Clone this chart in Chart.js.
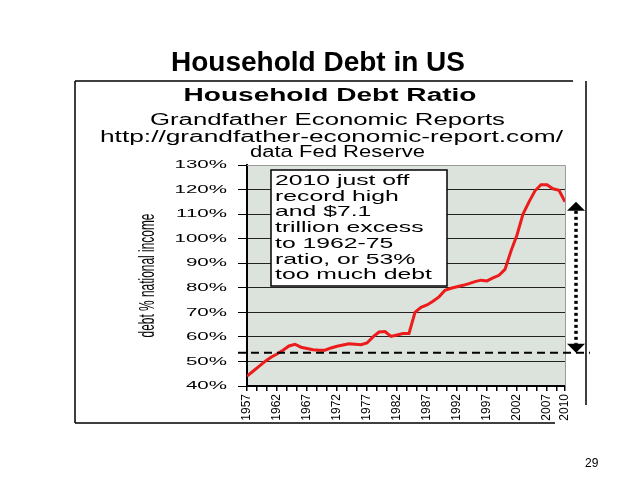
<!DOCTYPE html>
<html>
<head>
<meta charset="utf-8">
<title>Household Debt in US</title>
<script src="https://cdn.jsdelivr.net/npm/chart.js@4.4.1/dist/chart.umd.min.js"></script>
<style>
  html, body { margin: 0; padding: 0; background: #fff; }
  #slide { position: relative; width: 638px; height: 479px; overflow: hidden; }
  #slide h1 {
    position: absolute; left: 0; top: 46px; width: 636px; margin: 0;
    text-align: center; line-height: 32px;
    font: bold 28px "Liberation Sans", Arial, sans-serif; color: #000;
  }
  #page {
    position: absolute; left: 585px; top: 456px; line-height: 14px;
    font: 12px "Liberation Sans", Arial, sans-serif; color: #000;
  }
  canvas { position: absolute; left: 0; top: 0; }
</style>
</head>
<body>
<div id="slide">
  <canvas id="chart" width="638" height="479"></canvas>
  <h1>Household Debt in US</h1>
  <div id="page">29</div>
</div>
<script>
// household debt as % of national income
const years = [
  1957, 1958, 1959, 1960, 1961, 1962, 1963, 1964, 1965, 1966,
  1967, 1968, 1969, 1970, 1971, 1972, 1973, 1974, 1975, 1976,
  1977, 1978, 1979, 1980, 1981, 1982, 1983, 1984, 1985, 1986,
  1987, 1988, 1989, 1990, 1991, 1992, 1993, 1994, 1995, 1996,
  1997, 1998, 1999, 2000, 2001, 2002, 2003, 2004, 2005, 2006,
  2007, 2008, 2009, 2010
];
const debtRatio = [
  44, 46, 48, 50, 51.7, 53, 54.6, 56.3, 57, 55.8,
  55.3, 54.8, 54.6, 54.6, 55.5, 56.2, 56.7, 57.2, 57, 56.8,
  57.5, 60, 62, 62.2, 60.2, 60.8, 61.4, 61.4, 70, 72,
  73, 74.5, 76.3, 79, 79.8, 80.4, 81, 81.7, 82.5, 83.1,
  82.8, 84, 85.1, 87.5, 95, 101.5, 110, 115, 119.5, 122,
  122, 120.3, 119.7, 115
];
const xTickLabels = ['1957', '1962', '1967', '1972', '1977', '1982', '1987', '1992', '1997', '2002', '2007', '2010'];
const minorTickStep = 5 / 3; // excel puts 3 tick marks per 5 years
const excessBaseline = 53.5; // 1962-75 ratio

const chartTitle = 'Household Debt Ratio';
const subtitleLines = ['Grandfather Economic Reports', 'http://grandfather-economic-report.com/', 'data Fed Reserve'];
const yTitle = 'debt % national income';
const noteLines = ['2010 just off', 'record high', 'and $7.1', 'trillion excess', 'to 1962-75', 'ratio, or 53%', 'too much debt'];

const FONT = '"Liberation Sans", Arial, sans-serif';

// the source picture is stretched sideways, so text is drawn scaled
function wideText(ctx, text, x, y, sx, align) {
  ctx.save();
  ctx.translate(x, y);
  ctx.scale(sx, 1);
  ctx.textAlign = align;
  ctx.fillText(text, 0, 0);
  ctx.restore();
}
function fitText(ctx, text, cx, y, width) {
  wideText(ctx, text, cx, y, width / ctx.measureText(text).width, 'center');
}

const slidePlugin = {
  id: 'slide',
  beforeDraw(chart) {
    const {ctx, chartArea: a} = chart;
    ctx.save();
    ctx.fillStyle = '#dce3dc';
    ctx.fillRect(a.left, a.top, a.right - a.left, a.bottom - a.top);
    ctx.restore();
  },
  afterDatasetsDraw(chart) {
    const {ctx, chartArea: a} = chart;
    const ys = chart.scales.y;
    ctx.save();

    // frame of the pasted picture
    ctx.strokeStyle = '#000';
    ctx.lineWidth = 1.5;
    ctx.beginPath();
    ctx.moveTo(75, 81); ctx.lineTo(573, 81);
    ctx.moveTo(75, 81); ctx.lineTo(75, 423);
    ctx.moveTo(75, 423); ctx.lineTo(555, 423);
    ctx.moveTo(586, 81); ctx.lineTo(586, 405);
    ctx.stroke();

    // top and right edge of the plot
    ctx.strokeStyle = '#9a9a9a';
    ctx.lineWidth = 1;
    ctx.beginPath();
    ctx.moveTo(a.left, a.top + 0.5); ctx.lineTo(a.right + 0.5, a.top + 0.5);
    ctx.lineTo(a.right + 0.5, a.bottom);
    ctx.stroke();

    // titles
    ctx.fillStyle = '#000';
    ctx.textBaseline = 'alphabetic';
    ctx.font = 'bold 18px ' + FONT;
    fitText(ctx, chartTitle, 330, 101, 293);
    ctx.font = '16px ' + FONT;
    fitText(ctx, subtitleLines[0], 327.5, 125, 355);
    fitText(ctx, subtitleLines[1], 331.5, 141.5, 463);
    fitText(ctx, subtitleLines[2], 337.5, 157, 175);

    // y tick labels
    ctx.font = '10px ' + FONT;
    ctx.textBaseline = 'middle';
    ys.ticks.forEach(t => {
      wideText(ctx, t.value + '%', a.left - 20, ys.getPixelForValue(t.value) + 0.5, 2.05, 'right');
    });

    // y axis title
    ctx.save();
    ctx.translate(148, (a.top + a.bottom) / 2);
    ctx.rotate(-Math.PI / 2);
    ctx.font = '12px ' + FONT;
    ctx.scale(124 / ctx.measureText(yTitle).width, 1.8);
    ctx.textAlign = 'center';
    ctx.textBaseline = 'middle';
    ctx.fillText(yTitle, 0, 0);
    ctx.restore();

    // 1962-75 reference line
    const yBase = ys.getPixelForValue(excessBaseline);
    ctx.strokeStyle = '#000';
    ctx.lineWidth = 2;
    ctx.setLineDash([8, 5]);
    ctx.beginPath();
    ctx.moveTo(a.left - 9, yBase); ctx.lineTo(a.right + 25, yBase);
    ctx.stroke();

    // excess arrow
    const ax = a.right + 11;
    const yTop = ys.getPixelForValue(debtRatio[debtRatio.length - 1]);
    ctx.setLineDash([3, 3]);
    ctx.lineWidth = 3.5;
    ctx.beginPath();
    ctx.moveTo(ax, yTop + 9); ctx.lineTo(ax, yBase - 9);
    ctx.stroke();
    ctx.setLineDash([]);
    ctx.fillStyle = '#000';
    ctx.beginPath();
    ctx.moveTo(ax, yTop); ctx.lineTo(ax - 9, yTop + 9); ctx.lineTo(ax + 9, yTop + 9);
    ctx.closePath(); ctx.fill();
    ctx.beginPath();
    ctx.moveTo(ax, yBase); ctx.lineTo(ax - 9, yBase - 9); ctx.lineTo(ax + 9, yBase - 9);
    ctx.closePath(); ctx.fill();

    // note box
    const bx = a.left + 24, by = a.top + 5;
    ctx.fillStyle = '#fff';
    ctx.fillRect(bx, by, 176, 116);
    ctx.strokeStyle = '#000';
    ctx.lineWidth = 1.5;
    ctx.strokeRect(bx, by, 176, 116);
    ctx.fillStyle = '#000';
    ctx.font = '15px ' + FONT;
    ctx.textBaseline = 'alphabetic';
    noteLines.forEach((line, i) => {
      wideText(ctx, line, bx + 4, by + 15 + i * 15.7, 1.65, 'left');
    });

    ctx.restore();
  }
};

new Chart(document.getElementById('chart'), {
  type: 'line',
  data: {
    datasets: [{
      label: 'Household debt ratio',
      data: years.map((yr, i) => ({x: yr, y: debtRatio[i]})),
      borderColor: '#ec1c1c',
      borderWidth: 3,
      pointRadius: 0,
      tension: 0,
      fill: false
    }]
  },
  options: {
    responsive: false,
    animation: false,
    layout: {padding: {left: 0, right: 73, top: 165, bottom: 0}},
    plugins: {
      legend: {display: false},
      tooltip: {enabled: false}
    },
    scales: {
      x: {
        type: 'linear',
        min: 1957,
        max: 2010,
        afterBuildTicks(scale) {
          const ticks = [];
          for (let k = 0; 1957 + k * minorTickStep < 2009.5; k++) {
            ticks.push({value: 1957 + k * minorTickStep});
          }
          ticks.push({value: 2010});
          scale.ticks = ticks;
        },
        afterFit(scale) { scale.height = 93; },
        ticks: {
          autoSkip: false,
          minRotation: 90,
          maxRotation: 90,
          padding: 3,
          color: '#000',
          font: {family: FONT, size: 12},
          callback(value) {
            const hit = xTickLabels.find(l => Math.abs(+l - value) < 0.01);
            return hit || '';
          }
        },
        grid: {drawOnChartArea: false, tickLength: 5, color: '#000', lineWidth: 1.5},
        border: {color: '#000', width: 2}
      },
      y: {
        min: 40,
        max: 130,
        afterFit(scale) { scale.width = 247; },
        ticks: {
          stepSize: 10,
          color: 'rgba(0,0,0,0)',
          font: {family: FONT, size: 10},
          callback: v => v + '%'
        },
        grid: {
          tickLength: 9,
          color: ctx => ctx.tick && ctx.tick.value === 130 ? '#9a9a9a' : '#222',
          tickColor: '#000',
          lineWidth: 1
        },
        border: {color: '#000', width: 2}
      }
    }
  },
  plugins: [slidePlugin]
});
</script>
</body>
</html>
